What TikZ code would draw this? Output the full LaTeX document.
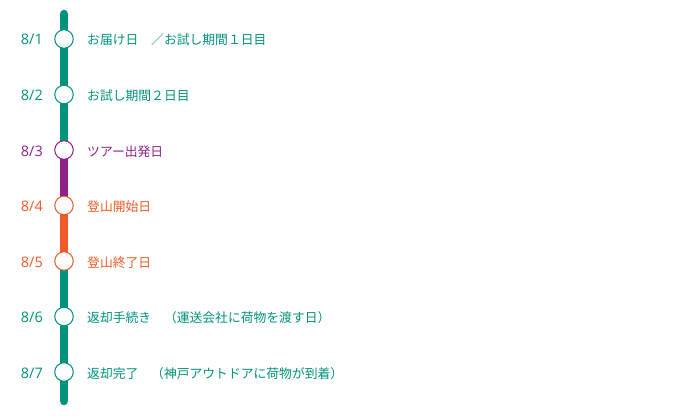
\documentclass[tikz,border=0pt]{standalone}
\usepackage{fontspec}
\setmainfont{Noto Sans CJK JP}
\newfontfamily\datefont{Open Sans}
\usetikzlibrary{backgrounds}
\definecolor{tourgreen}{RGB}{0,146,124}
\definecolor{tourpurple}{RGB}{143,34,140}
\definecolor{tourorange}{RGB}{240,90,40}
\begin{document}
\begin{tikzpicture}
    [ x=1pt, y=-1pt,
      day-node/.style = {
        shape=circle, draw, fill=white,
        line width=1pt, minimum size=18.5pt, inner sep=0pt
      },
      date-txt/.style = {
        anchor=base east, inner sep=0pt,
        font=\datefont\fontsize{14.5}{16}\selectfont
      },
      event-txt/.style = {
        anchor=base west, inner sep=0pt,
        font=\fontsize{12.8}{15}\selectfont
      },
      rail/.style = {line width=8.5pt}]
      \useasboundingbox (0,0) rectangle (700,417);
      \coordinate (rail-top) at (64,14);
      \coordinate (rail-end) at (64,401);
      \node [tourgreen, day-node] (d1) at (64,39) {};
      \node [tourgreen, day-node] (d2) at (64,94.5) {};
      \node [tourpurple, day-node] (d3) at (64,150) {};
      \node [tourorange, day-node] (d4) at (64,205.5) {};
      \node [tourorange, day-node] (d5) at (64,261) {};
      \node [tourgreen, day-node] (d6) at (64,316.5) {};
      \node [tourgreen, day-node] (d7) at (64,372) {};
      \node [date-txt, tourgreen] (t1) at (43,45) {8/1};
      \node [date-txt, tourgreen] (t2) at (43,100.5) {8/2};
      \node [date-txt, tourpurple] (t3) at (43,156) {8/3};
      \node [date-txt, tourorange] (t4) at (43,211.5) {8/4};
      \node [date-txt, tourorange] (t5) at (43,267) {8/5};
      \node [date-txt, tourgreen] (t6) at (43,322.5) {8/6};
      \node [date-txt, tourgreen] (t7) at (43,378) {8/7};
      \node [event-txt, tourgreen] (e1) at (87,45) {お届け日　／お試し期間１日目};
      \node [event-txt, tourgreen] (e2) at (87,100.5) {お試し期間２日目};
      \node [event-txt, tourpurple] (e3) at (87,156) {ツアー出発日};
      \node [event-txt, tourorange] (e4) at (87,211.5) {登山開始日};
      \node [event-txt, tourorange] (e5) at (87,267) {登山終了日};
      \node [event-txt, tourgreen] (e6) at (87,322.5) {返却手続き　（運送会社に荷物を渡す日）};
      \node [event-txt, tourgreen] (e7) at (87,378) {返却完了　（神戸アウトドアに荷物が到着）};
      \begin{scope}[on background layer]
        \draw [rail, tourgreen, line cap=round] (rail-top) -- (d3.center);
        \draw [rail, tourpurple] (d3.center) -- (d4.center);
        \draw [rail, tourorange] (d4.center) -- (d5.center);
        \draw [rail, tourgreen, line cap=round] (d5.center) -- (rail-end);
      \end{scope}
  \end{tikzpicture}
\end{document}
